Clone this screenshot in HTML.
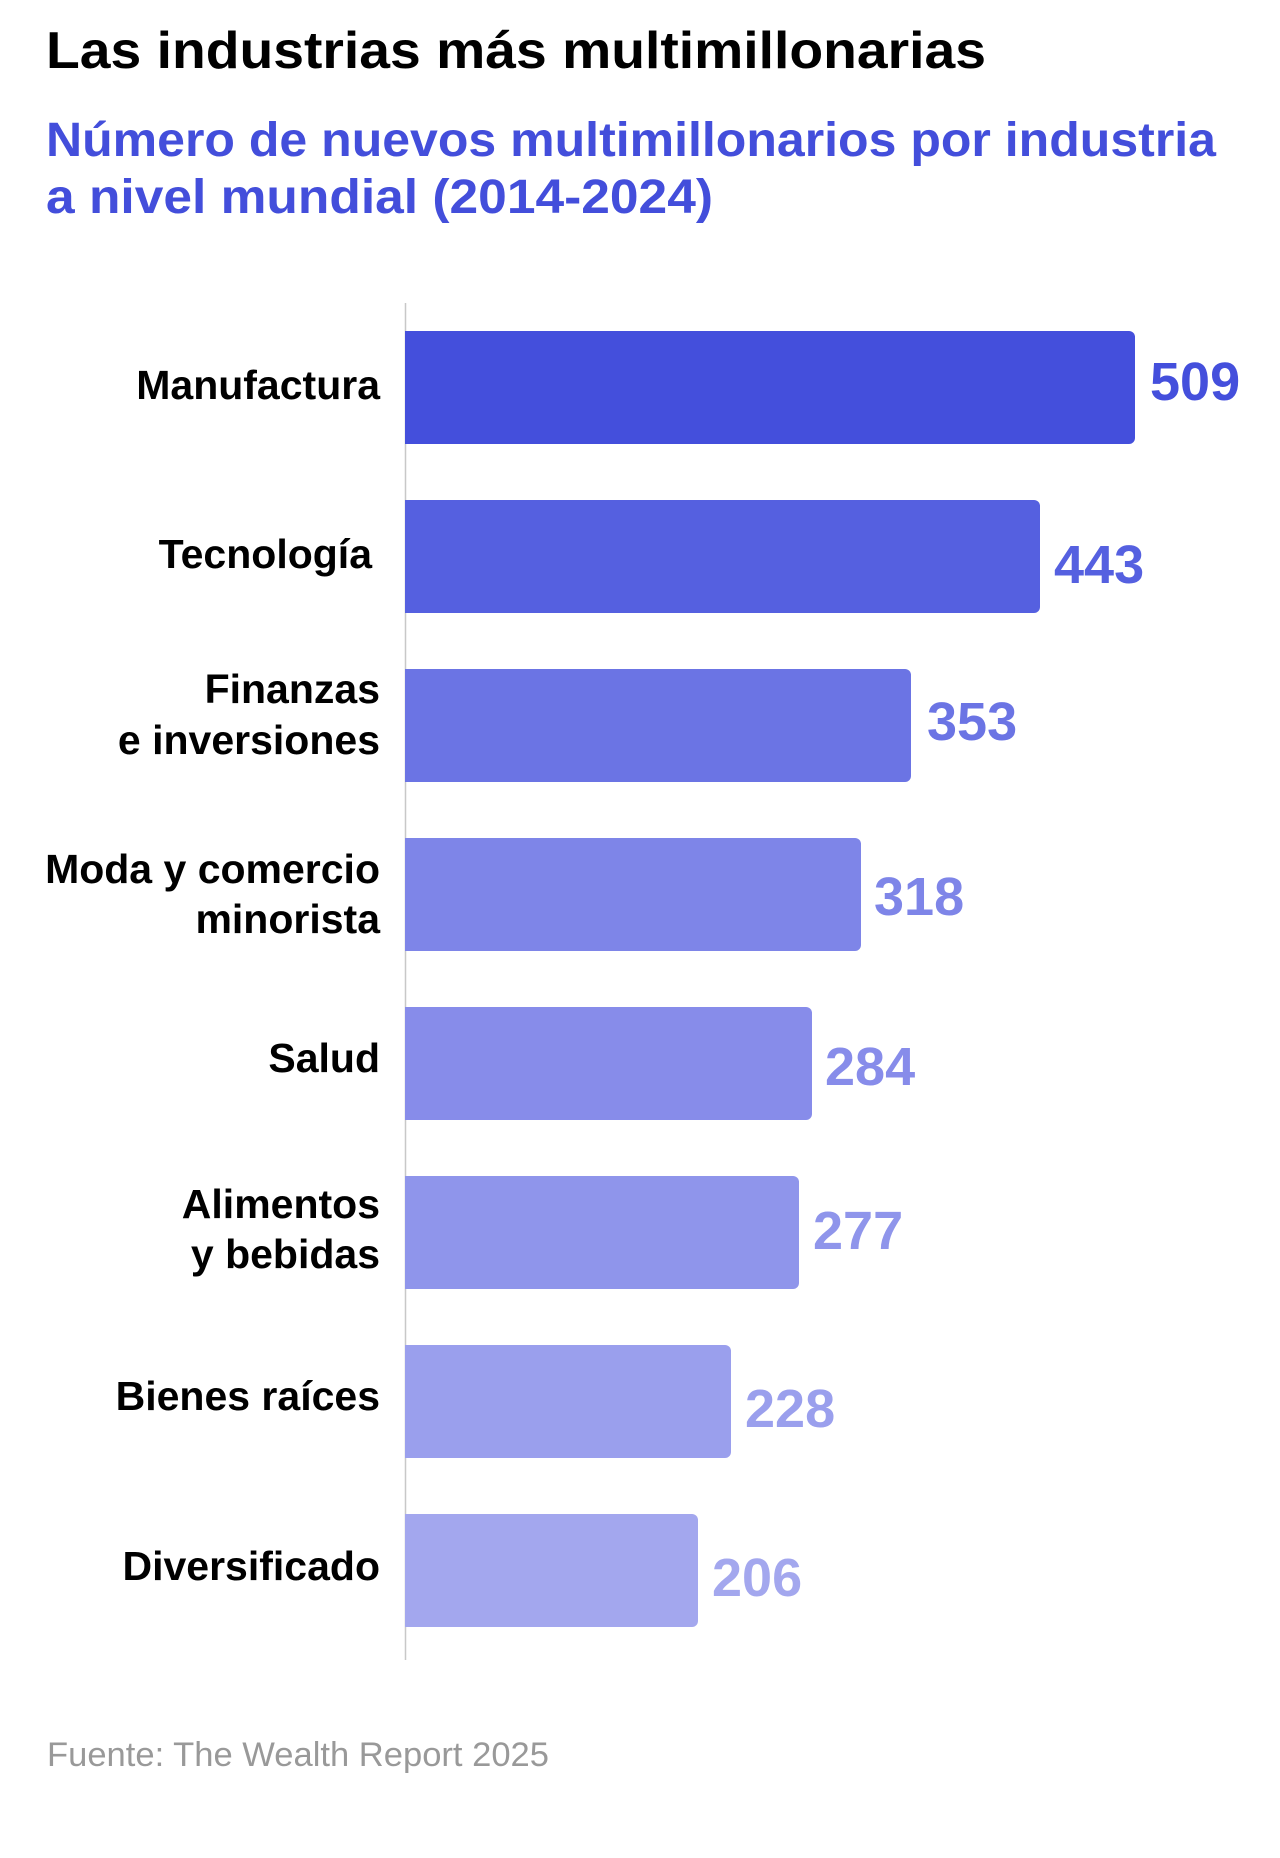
<!DOCTYPE html>
<html><head><meta charset="utf-8"><style>
html,body{margin:0;padding:0;background:#fff;}
svg{display:block;}
text{font-family:"Liberation Sans",Arial,sans-serif;}
</style></head><body>
<svg width="1280" height="1858" viewBox="0 0 1280 1858" xmlns="http://www.w3.org/2000/svg">
<rect width="1280" height="1858" fill="#fff"/>
<text x="46" y="68" font-size="52" font-weight="bold" fill="#000" textLength="940" lengthAdjust="spacingAndGlyphs">Las industrias más multimillonarias</text>
<text x="46" y="156" font-size="48" font-weight="bold" fill="#434edb" textLength="1170" lengthAdjust="spacingAndGlyphs">Número de nuevos multimillonarios por industria</text>
<text x="46" y="213" font-size="48" font-weight="bold" fill="#434edb" textLength="667" lengthAdjust="spacingAndGlyphs">a nivel mundial (2014-2024)</text>

<line x1="405.5" y1="303" x2="405.5" y2="1660" stroke="#c8c8c8" stroke-width="1.5"/>

<g font-size="41" font-weight="bold" fill="#000" text-anchor="end">
<text x="380" y="399">Manufactura</text>
<text x="372" y="568">Tecnología</text>
<text x="380" y="703">Finanzas</text>
<text x="380" y="754">e inversiones</text>
<text x="380" y="883">Moda y comercio</text>
<text x="380" y="933">minorista</text>
<text x="380" y="1072">Salud</text>
<text x="380" y="1218">Alimentos</text>
<text x="380" y="1268">y bebidas</text>
<text x="380" y="1410">Bienes raíces</text>
<text x="380" y="1580">Diversificado</text>
</g>

<g>
<path d="M405,331 H1129 a6,6 0 0 1 6,6 V438 a6,6 0 0 1 -6,6 H405 Z" fill="#444fdc"/>
<path d="M405,500 H1034 a6,6 0 0 1 6,6 V607 a6,6 0 0 1 -6,6 H405 Z" fill="#5560e0"/>
<path d="M405,669 H905 a6,6 0 0 1 6,6 V776 a6,6 0 0 1 -6,6 H405 Z" fill="#6b74e4"/>
<path d="M405,838 H855 a6,6 0 0 1 6,6 V945 a6,6 0 0 1 -6,6 H405 Z" fill="#7e85e8"/>
<path d="M405,1007 H806 a6,6 0 0 1 6,6 V1114 a6,6 0 0 1 -6,6 H405 Z" fill="#878cea"/>
<path d="M405,1176 H793 a6,6 0 0 1 6,6 V1283 a6,6 0 0 1 -6,6 H405 Z" fill="#8f95eb"/>
<path d="M405,1345 H725 a6,6 0 0 1 6,6 V1452 a6,6 0 0 1 -6,6 H405 Z" fill="#9a9fed"/>
<path d="M405,1514 H692 a6,6 0 0 1 6,6 V1621 a6,6 0 0 1 -6,6 H405 Z" fill="#a3a7ee"/>
</g>

<g font-size="54" font-weight="bold">
<text x="1150" y="400" fill="#444fdc">509</text>
<text x="1054" y="583" fill="#5560e0">443</text>
<text x="927" y="740" fill="#6b74e4">353</text>
<text x="874" y="915" fill="#7e85e8">318</text>
<text x="825" y="1085" fill="#878cea">284</text>
<text x="813" y="1249" fill="#8f95eb">277</text>
<text x="745" y="1427" fill="#9a9fed">228</text>
<text x="712" y="1596" fill="#a3a7ee">206</text>
</g>

<text x="47" y="1766" font-size="34" fill="#999" textLength="502" lengthAdjust="spacingAndGlyphs">Fuente: The Wealth Report 2025</text>
</svg>
</body></html>
